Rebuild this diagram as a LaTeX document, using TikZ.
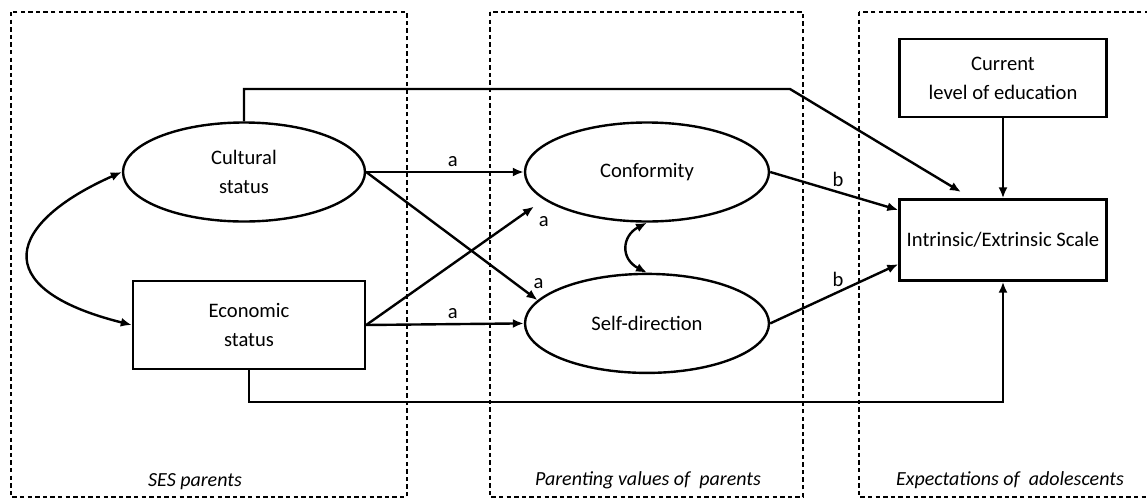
\documentclass[tikz,border=0pt]{standalone}
\usepackage{fontspec}
\setmainfont{Carlito}
\usetikzlibrary{shapes,arrows,arrows.meta}
\usetikzlibrary{shapes.geometric}
\usetikzlibrary{positioning}
\tikzstyle{latent} = [ellipse, draw, line width=1.2pt, 
minimum width=121pt, minimum height=49.5pt, align=center]
\tikzstyle{block} = [rectangle, draw, line width=1.2pt, align=center]
\tikzstyle{line} = [draw, line width=1.2pt, -{Latex[length=5.5pt, width=4.5pt]}]
\tikzstyle{covar} = [draw, line width=1.2pt, {Latex[length=5.5pt, width=4.5pt]}-{Latex[length=5.5pt, width=4.5pt]}]
\tikzstyle{panel} = [draw, line width=0.6pt, dash pattern=on 2.2pt off 1.6pt]
\tikzstyle{coef} = [inner sep=2pt]
\tikzstyle{panellabel} = [font=\itshape]

\begin{document}
\begin{tikzpicture}[x=0.5pt, y=-0.5pt, node distance=2cm, auto,
	font=\fontsize{10.3}{14.5}\selectfont]
	
	\useasboundingbox (0,0) rectangle (1147,499);
	
	% Panels
	\path [panel] (11,12) rectangle (407,497);
	\path [panel] (490,12) rectangle (803,497);
	\path [panel] (859,12) rectangle (1165,497);
	\node [panellabel] (p1) at (195,482) {SES parents};
	\node [panellabel] (p2) at (648,480) {Parenting values of\ \ parents};
	\node [panellabel] (p3) at (1010,480) {Expectations of\ \ adolescents};
	
	% Nodes
	\node [latent] (cult) at (244,172) {Cultural\\status};
	\node [block, minimum width=116pt, minimum height=44pt] (econ) at (249,325) {Economic\\status};
	\node [latent, minimum width=122pt] (conf) at (647,172) {Conformity};
	\node [latent, minimum width=122pt, below=25pt of conf] (self) {Self-direction};
	\node [block, minimum width=103.5pt, minimum height=40.5pt] (intr) at (1003,240) {Intrinsic/Extrinsic Scale};
	\node [block, minimum width=103.5pt, minimum height=39pt, above=40pt of intr] (cur) {Current\\level of education};
	
	\coordinate (bend) at (790,89);
	\coordinate (topin) at (961,192);
	
	% Draw edges
	\path [line] (cult.east) -- node [coef, pos=0.55, above] (a1) {a} (conf.west);
	\path [line] (cult.east) -- node [coef, pos=1, anchor=south, xshift=0.5pt, yshift=3pt] (a2) {a} (self.168);
	\path [line, shorten >=6pt] (econ.east) -- node [coef, pos=1, anchor=north, xshift=0pt, yshift=-6pt] (a3) {a} (conf.195);
	\path [line] (econ.east) -- node [coef, pos=0.55, above] (a4) {a} (self.west);
	\path [line] (conf.east) -- node [coef, pos=0.53, above] (b1) {b} (intr.164);
	\path [line] (self.east) -- node [coef, pos=0.53, above] (b2) {b} (intr.193);
	\path [line] (cur) -- (intr);
	\path [line] (cult.north) |- (bend) -- (topin);
	\path [line] (econ.south) -- ++(0,32) -| (intr.south);
	\path [covar] (cult.west) .. controls +(-113,50) and +(-148,-37) .. (econ.west);
	\path [covar] (conf.south) .. controls +(-25,13) and +(-27,-14) .. (self.north);
	
\end{tikzpicture}
\end{document}
